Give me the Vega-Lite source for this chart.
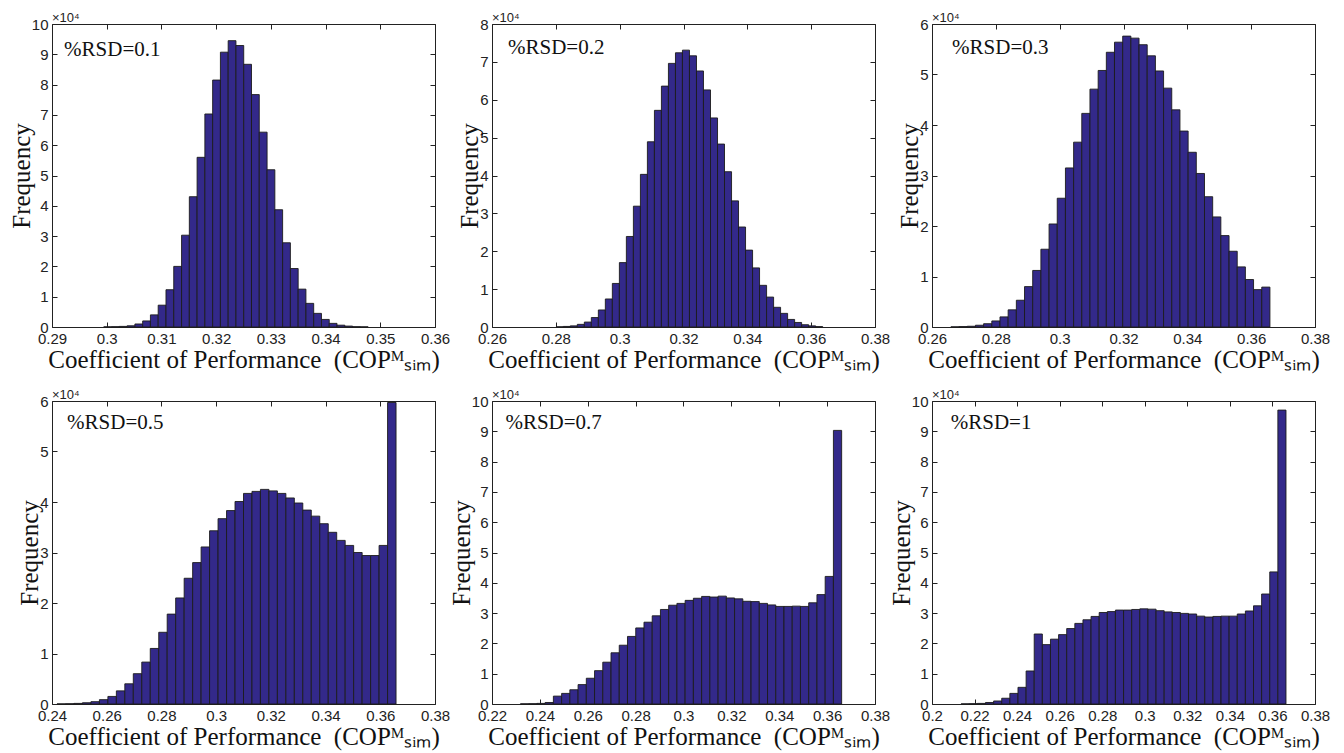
{
  "$schema": "https://vega.github.io/schema/vega-lite/v6.json",
  "background": "white",
  "padding": {"left": 8, "top": 11, "right": 5, "bottom": 5},
  "config": {
    "view": {"stroke": "#222", "strokeWidth": 1},
    "axis": {"grid": false, "domain": false, "ticks": true, "tickSize": -5, "tickColor": "#222", "tickWidth": 1,
      "labelFont": "Liberation Sans Narrow, Liberation Sans, Arial", "labelFontSize": 15, "labelColor": "#222", "labelPadding": 9,
      "labelFlush": false, "labelOverlap": false,
      "titleFont": "Liberation Serif, Times New Roman, serif", "titleFontSize": 25, "titleFontWeight": "normal", "titleColor": "#111"},
    "axisLeft": {"titlePadding": -3},
    "axisBottom": {"titlePadding": 1},
    "title": {"anchor": "start", "frame": "group", "fontSize": 13, "font": "Liberation Sans", "fontWeight": "normal", "offset": 3, "dy": 11, "color": "#222"}
  },
  "datasets": {
    "p1": [
      {"lo":0.29946,"hi":0.30088,"n":50},{"lo":0.30088,"hi":0.30231,"n":100},{"lo":0.30231,"hi":0.30373,"n":200},{"lo":0.30373,"hi":0.30515,"n":400},
      {"lo":0.30515,"hi":0.30657,"n":1000},{"lo":0.30657,"hi":0.30799,"n":2000},{"lo":0.30799,"hi":0.30941,"n":4000},{"lo":0.30941,"hi":0.31083,"n":7200},
      {"lo":0.31083,"hi":0.31225,"n":12300},{"lo":0.31225,"hi":0.31368,"n":20000},{"lo":0.31368,"hi":0.31510,"n":30300},{"lo":0.31510,"hi":0.31652,"n":43000},
      {"lo":0.31652,"hi":0.31794,"n":56000},{"lo":0.31794,"hi":0.31936,"n":70300},{"lo":0.31936,"hi":0.32078,"n":81500},{"lo":0.32078,"hi":0.32220,"n":90700},
      {"lo":0.32220,"hi":0.32362,"n":94500},{"lo":0.32362,"hi":0.32504,"n":92900},{"lo":0.32504,"hi":0.32646,"n":86700},{"lo":0.32646,"hi":0.32788,"n":76700},
      {"lo":0.32788,"hi":0.32931,"n":64300},{"lo":0.32931,"hi":0.33073,"n":51900},{"lo":0.33073,"hi":0.33215,"n":38700},{"lo":0.33215,"hi":0.33357,"n":27800},
      {"lo":0.33357,"hi":0.33499,"n":19300},{"lo":0.33499,"hi":0.33641,"n":12500},{"lo":0.33641,"hi":0.33783,"n":7800},{"lo":0.33783,"hi":0.33925,"n":4500},
      {"lo":0.33925,"hi":0.34067,"n":2500},{"lo":0.34067,"hi":0.34209,"n":1200},{"lo":0.34209,"hi":0.34352,"n":600},{"lo":0.34352,"hi":0.34494,"n":300},
      {"lo":0.34494,"hi":0.34636,"n":100},{"lo":0.34636,"hi":0.34778,"n":50}
    ],
    "p2": [
      {"lo":0.28014,"hi":0.28234,"n":50},{"lo":0.28234,"hi":0.28453,"n":150},{"lo":0.28453,"hi":0.28673,"n":300},{"lo":0.28673,"hi":0.28893,"n":700},
      {"lo":0.28893,"hi":0.29112,"n":1300},{"lo":0.29112,"hi":0.29332,"n":2500},{"lo":0.29332,"hi":0.29551,"n":4500},{"lo":0.29551,"hi":0.29771,"n":7400},
      {"lo":0.29771,"hi":0.29991,"n":11500},{"lo":0.29991,"hi":0.30210,"n":17000},{"lo":0.30210,"hi":0.30430,"n":23900},{"lo":0.30430,"hi":0.30650,"n":31900},
      {"lo":0.30650,"hi":0.30869,"n":40300},{"lo":0.30869,"hi":0.31089,"n":48900},{"lo":0.31089,"hi":0.31308,"n":57200},{"lo":0.31308,"hi":0.31528,"n":63600},
      {"lo":0.31528,"hi":0.31748,"n":69600},{"lo":0.31748,"hi":0.31967,"n":72400},{"lo":0.31967,"hi":0.32187,"n":73100},{"lo":0.32187,"hi":0.32407,"n":71600},
      {"lo":0.32407,"hi":0.32626,"n":67600},{"lo":0.32626,"hi":0.32846,"n":62600},{"lo":0.32846,"hi":0.33066,"n":55200},{"lo":0.33066,"hi":0.33285,"n":48300},
      {"lo":0.33285,"hi":0.33505,"n":41000},{"lo":0.33505,"hi":0.33724,"n":33300},{"lo":0.33724,"hi":0.33944,"n":26400},{"lo":0.33944,"hi":0.34164,"n":20300},
      {"lo":0.34164,"hi":0.34383,"n":15600},{"lo":0.34383,"hi":0.34603,"n":11000},{"lo":0.34603,"hi":0.34823,"n":7900},{"lo":0.34823,"hi":0.35042,"n":5200},
      {"lo":0.35042,"hi":0.35262,"n":3600},{"lo":0.35262,"hi":0.35482,"n":2000},{"lo":0.35482,"hi":0.35701,"n":1200},{"lo":0.35701,"hi":0.35921,"n":600},
      {"lo":0.35921,"hi":0.36140,"n":300},{"lo":0.36140,"hi":0.36360,"n":100}
    ],
    "p3": [
      {"lo":0.26592,"hi":0.26849,"n":30},{"lo":0.26849,"hi":0.27105,"n":80},{"lo":0.27105,"hi":0.27361,"n":150},{"lo":0.27361,"hi":0.27617,"n":350},
      {"lo":0.27617,"hi":0.27874,"n":650},{"lo":0.27874,"hi":0.28130,"n":1200},{"lo":0.28130,"hi":0.28386,"n":2000},{"lo":0.28386,"hi":0.28643,"n":3400},
      {"lo":0.28643,"hi":0.28899,"n":5300},{"lo":0.28899,"hi":0.29155,"n":8000},{"lo":0.29155,"hi":0.29412,"n":11200},{"lo":0.29412,"hi":0.29668,"n":15400},
      {"lo":0.29668,"hi":0.29924,"n":20400},{"lo":0.29924,"hi":0.30181,"n":25500},{"lo":0.30181,"hi":0.30437,"n":31500},{"lo":0.30437,"hi":0.30693,"n":36600},
      {"lo":0.30693,"hi":0.30949,"n":42300},{"lo":0.30949,"hi":0.31206,"n":47100},{"lo":0.31206,"hi":0.31462,"n":50800},{"lo":0.31462,"hi":0.31718,"n":54400},
      {"lo":0.31718,"hi":0.31975,"n":56400},{"lo":0.31975,"hi":0.32231,"n":57600},{"lo":0.32231,"hi":0.32487,"n":57200},{"lo":0.32487,"hi":0.32743,"n":55900},
      {"lo":0.32743,"hi":0.33000,"n":53700},{"lo":0.33000,"hi":0.33256,"n":50700},{"lo":0.33256,"hi":0.33512,"n":47300},{"lo":0.33512,"hi":0.33769,"n":43000},
      {"lo":0.33769,"hi":0.34025,"n":38800},{"lo":0.34025,"hi":0.34281,"n":34600},{"lo":0.34281,"hi":0.34538,"n":30400},{"lo":0.34538,"hi":0.34794,"n":25800},
      {"lo":0.34794,"hi":0.35050,"n":21800},{"lo":0.35050,"hi":0.35307,"n":18100},{"lo":0.35307,"hi":0.35563,"n":15000},{"lo":0.35563,"hi":0.35819,"n":11900},
      {"lo":0.35819,"hi":0.36075,"n":9400},{"lo":0.36075,"hi":0.36332,"n":7400},{"lo":0.36332,"hi":0.36588,"n":7900}
    ],
    "p4": [
      {"lo":0.24184,"hi":0.24494,"n":20},{"lo":0.24494,"hi":0.24804,"n":50},{"lo":0.24804,"hi":0.25113,"n":120},{"lo":0.25113,"hi":0.25423,"n":250},
      {"lo":0.25423,"hi":0.25733,"n":460},{"lo":0.25733,"hi":0.26043,"n":860},{"lo":0.26043,"hi":0.26353,"n":1500},{"lo":0.26353,"hi":0.26662,"n":2600},
      {"lo":0.26662,"hi":0.26972,"n":4000},{"lo":0.26972,"hi":0.27282,"n":6000},{"lo":0.27282,"hi":0.27592,"n":8300},{"lo":0.27592,"hi":0.27902,"n":11000},
      {"lo":0.27902,"hi":0.28211,"n":14200},{"lo":0.28211,"hi":0.28521,"n":17800},{"lo":0.28521,"hi":0.28831,"n":21000},{"lo":0.28831,"hi":0.29141,"n":24900},
      {"lo":0.29141,"hi":0.29451,"n":28000},{"lo":0.29451,"hi":0.29760,"n":31100},{"lo":0.29760,"hi":0.30070,"n":34300},{"lo":0.30070,"hi":0.30380,"n":36700},
      {"lo":0.30380,"hi":0.30690,"n":38300},{"lo":0.30690,"hi":0.31000,"n":40100},{"lo":0.31000,"hi":0.31309,"n":41700},{"lo":0.31309,"hi":0.31619,"n":42100},
      {"lo":0.31619,"hi":0.31929,"n":42500},{"lo":0.31929,"hi":0.32239,"n":42200},{"lo":0.32239,"hi":0.32549,"n":41700},{"lo":0.32549,"hi":0.32858,"n":40800},
      {"lo":0.32858,"hi":0.33168,"n":39800},{"lo":0.33168,"hi":0.33478,"n":38400},{"lo":0.33478,"hi":0.33788,"n":37200},{"lo":0.33788,"hi":0.34098,"n":35700},
      {"lo":0.34098,"hi":0.34407,"n":34000},{"lo":0.34407,"hi":0.34717,"n":32400},{"lo":0.34717,"hi":0.35027,"n":31400},{"lo":0.35027,"hi":0.35337,"n":30000},
      {"lo":0.35337,"hi":0.35647,"n":29400},{"lo":0.35647,"hi":0.35956,"n":29400},{"lo":0.35956,"hi":0.36266,"n":31400},{"lo":0.36266,"hi":0.36576,"n":59700}
    ],
    "p5": [
      {"lo":0.23187,"hi":0.23531,"n":50},{"lo":0.23531,"hi":0.23875,"n":100},{"lo":0.23875,"hi":0.24219,"n":200},{"lo":0.24219,"hi":0.24564,"n":500},
      {"lo":0.24564,"hi":0.24908,"n":2600},{"lo":0.24908,"hi":0.25252,"n":3500},{"lo":0.25252,"hi":0.25596,"n":4700},{"lo":0.25596,"hi":0.25940,"n":6400},
      {"lo":0.25940,"hi":0.26284,"n":8500},{"lo":0.26284,"hi":0.26628,"n":11000},{"lo":0.26628,"hi":0.26972,"n":13800},{"lo":0.26972,"hi":0.27316,"n":16900},
      {"lo":0.27316,"hi":0.27660,"n":19400},{"lo":0.27660,"hi":0.28005,"n":22300},{"lo":0.28005,"hi":0.28349,"n":25100},{"lo":0.28349,"hi":0.28693,"n":27000},
      {"lo":0.28693,"hi":0.29037,"n":29100},{"lo":0.29037,"hi":0.29381,"n":31200},{"lo":0.29381,"hi":0.29725,"n":32600},{"lo":0.29725,"hi":0.30069,"n":33200},
      {"lo":0.30069,"hi":0.30413,"n":34200},{"lo":0.30413,"hi":0.30757,"n":34900},{"lo":0.30757,"hi":0.31101,"n":35500},{"lo":0.31101,"hi":0.31446,"n":35300},
      {"lo":0.31446,"hi":0.31790,"n":35600},{"lo":0.31790,"hi":0.32134,"n":35000},{"lo":0.32134,"hi":0.32478,"n":34700},{"lo":0.32478,"hi":0.32822,"n":33900},
      {"lo":0.32822,"hi":0.33166,"n":33800},{"lo":0.33166,"hi":0.33510,"n":33200},{"lo":0.33510,"hi":0.33854,"n":32700},{"lo":0.33854,"hi":0.34198,"n":32200},
      {"lo":0.34198,"hi":0.34542,"n":32200},{"lo":0.34542,"hi":0.34887,"n":32300},{"lo":0.34887,"hi":0.35231,"n":32200},{"lo":0.35231,"hi":0.35575,"n":33400},
      {"lo":0.35575,"hi":0.35919,"n":36100},{"lo":0.35919,"hi":0.36263,"n":42100},{"lo":0.36263,"hi":0.36607,"n":90300}
    ],
    "p6": [
      {"lo":0.21369,"hi":0.21751,"n":50},{"lo":0.21751,"hi":0.22132,"n":100},{"lo":0.22132,"hi":0.22514,"n":200},{"lo":0.22514,"hi":0.22896,"n":500},
      {"lo":0.22896,"hi":0.23277,"n":1000},{"lo":0.23277,"hi":0.23659,"n":1900},{"lo":0.23659,"hi":0.24041,"n":3500},{"lo":0.24041,"hi":0.24423,"n":5500},
      {"lo":0.24423,"hi":0.24804,"n":10900},{"lo":0.24804,"hi":0.25186,"n":23100},{"lo":0.25186,"hi":0.25568,"n":19600},{"lo":0.25568,"hi":0.25949,"n":21400},
      {"lo":0.25949,"hi":0.26331,"n":22900},{"lo":0.26331,"hi":0.26713,"n":24900},{"lo":0.26713,"hi":0.27094,"n":26600},{"lo":0.27094,"hi":0.27476,"n":27800},
      {"lo":0.27476,"hi":0.27858,"n":28900},{"lo":0.27858,"hi":0.28240,"n":30200},{"lo":0.28240,"hi":0.28621,"n":30500},{"lo":0.28621,"hi":0.29003,"n":31000},
      {"lo":0.29003,"hi":0.29385,"n":31000},{"lo":0.29385,"hi":0.29766,"n":31200},{"lo":0.29766,"hi":0.30148,"n":31400},{"lo":0.30148,"hi":0.30530,"n":31300},
      {"lo":0.30530,"hi":0.30912,"n":30800},{"lo":0.30912,"hi":0.31293,"n":30400},{"lo":0.31293,"hi":0.31675,"n":30200},{"lo":0.31675,"hi":0.32057,"n":29900},
      {"lo":0.32057,"hi":0.32438,"n":29700},{"lo":0.32438,"hi":0.32820,"n":29000},{"lo":0.32820,"hi":0.33202,"n":28700},{"lo":0.33202,"hi":0.33583,"n":28900},
      {"lo":0.33583,"hi":0.33965,"n":29000},{"lo":0.33965,"hi":0.34347,"n":29000},{"lo":0.34347,"hi":0.34729,"n":29700},{"lo":0.34729,"hi":0.35110,"n":30700},
      {"lo":0.35110,"hi":0.35492,"n":32400},{"lo":0.35492,"hi":0.35874,"n":36300},{"lo":0.35874,"hi":0.36255,"n":43600},{"lo":0.36255,"hi":0.36637,"n":97000}
    ]
  },
  "columns": 3,
  "spacing": {"row": 74, "column": 57},
  "bounds": "flush",
  "concat": [
    {
      "width": 383, "height": 303,
      "title": {"text": "×10⁴"},
      "layer": [
        {"data": {"name": "p1"}, "mark": {"type": "rect", "fill": "#33298A", "stroke": "#1c1c1c", "strokeWidth": 0.9},
         "encoding": {
           "x": {"field": "lo", "type": "quantitative", "scale": {"domain": [0.29, 0.36], "nice": false, "zero": false},
                 "axis": {"orient": "bottom", "values": [0.29,0.3,0.31,0.32,0.33,0.34,0.35,0.36], "format": "~g", "title": "Coefficient of Performance\u2002(COPᴹₛᵢₘ)"}},
           "x2": {"field": "hi"},
           "y": {"field": "n", "type": "quantitative", "scale": {"domain": [0, 100000], "nice": false},
                 "axis": {"orient": "left", "values": [0,10000,20000,30000,40000,50000,60000,70000,80000,90000,100000], "labelExpr": "format(datum.value/10000,'~g')", "title": "Frequency"}},
           "y2": {"datum": 0}
         }},
        {"data": {"values": [{"t": "%RSD=0.1"}]}, "mark": {"type": "text", "align": "left", "baseline": "alphabetic", "font": "Liberation Serif, Times New Roman, serif", "fontSize": 21, "color": "#111"},
         "encoding": {
           "x": {"datum": 0.2922, "type": "quantitative", "scale": {"domain": [0.29, 0.36], "nice": false, "zero": false},
                 "axis": {"orient": "top", "values": [0.29,0.3,0.31,0.32,0.33,0.34,0.35,0.36], "labels": false, "title": null}},
           "y": {"datum": 89400, "type": "quantitative", "scale": {"domain": [0, 100000], "nice": false},
                 "axis": {"orient": "right", "values": [0,10000,20000,30000,40000,50000,60000,70000,80000,90000,100000], "labels": false, "title": null}},
           "text": {"field": "t"}
         }}
      ],
      "resolve": {"axis": {"x": "independent", "y": "independent"}}
    },
    {
      "width": 383, "height": 303,
      "title": {"text": "×10⁴"},
      "layer": [
        {"data": {"name": "p2"}, "mark": {"type": "rect", "fill": "#33298A", "stroke": "#1c1c1c", "strokeWidth": 0.9},
         "encoding": {
           "x": {"field": "lo", "type": "quantitative", "scale": {"domain": [0.26, 0.38], "nice": false, "zero": false},
                 "axis": {"orient": "bottom", "values": [0.26,0.28,0.3,0.32,0.34,0.36,0.38], "format": "~g", "title": "Coefficient of Performance\u2002(COPᴹₛᵢₘ)"}},
           "x2": {"field": "hi"},
           "y": {"field": "n", "type": "quantitative", "scale": {"domain": [0, 80000], "nice": false},
                 "axis": {"orient": "left", "values": [0,10000,20000,30000,40000,50000,60000,70000,80000], "labelExpr": "format(datum.value/10000,'~g')", "title": "Frequency"}},
           "y2": {"datum": 0}
         }},
        {"data": {"values": [{"t": "%RSD=0.2"}]}, "mark": {"type": "text", "align": "left", "baseline": "alphabetic", "font": "Liberation Serif, Times New Roman, serif", "fontSize": 21, "color": "#111"},
         "encoding": {
           "x": {"datum": 0.265, "type": "quantitative", "scale": {"domain": [0.26, 0.38], "nice": false, "zero": false},
                 "axis": {"orient": "top", "values": [0.26,0.28,0.3,0.32,0.34,0.36,0.38], "labels": false, "title": null}},
           "y": {"datum": 72100, "type": "quantitative", "scale": {"domain": [0, 80000], "nice": false},
                 "axis": {"orient": "right", "values": [0,10000,20000,30000,40000,50000,60000,70000,80000], "labels": false, "title": null}},
           "text": {"field": "t"}
         }}
      ],
      "resolve": {"axis": {"x": "independent", "y": "independent"}}
    },
    {
      "width": 383, "height": 303,
      "title": {"text": "×10⁴"},
      "layer": [
        {"data": {"name": "p3"}, "mark": {"type": "rect", "fill": "#33298A", "stroke": "#1c1c1c", "strokeWidth": 0.9},
         "encoding": {
           "x": {"field": "lo", "type": "quantitative", "scale": {"domain": [0.26, 0.38], "nice": false, "zero": false},
                 "axis": {"orient": "bottom", "values": [0.26,0.28,0.3,0.32,0.34,0.36,0.38], "format": "~g", "title": "Coefficient of Performance\u2002(COPᴹₛᵢₘ)"}},
           "x2": {"field": "hi"},
           "y": {"field": "n", "type": "quantitative", "scale": {"domain": [0, 60000], "nice": false},
                 "axis": {"orient": "left", "values": [0,10000,20000,30000,40000,50000,60000], "labelExpr": "format(datum.value/10000,'~g')", "title": "Frequency"}},
           "y2": {"datum": 0}
         }},
        {"data": {"values": [{"t": "%RSD=0.3"}]}, "mark": {"type": "text", "align": "left", "baseline": "alphabetic", "font": "Liberation Serif, Times New Roman, serif", "fontSize": 21, "color": "#111"},
         "encoding": {
           "x": {"datum": 0.2663, "type": "quantitative", "scale": {"domain": [0.26, 0.38], "nice": false, "zero": false},
                 "axis": {"orient": "top", "values": [0.26,0.28,0.3,0.32,0.34,0.36,0.38], "labels": false, "title": null}},
           "y": {"datum": 54100, "type": "quantitative", "scale": {"domain": [0, 60000], "nice": false},
                 "axis": {"orient": "right", "values": [0,10000,20000,30000,40000,50000,60000], "labels": false, "title": null}},
           "text": {"field": "t"}
         }}
      ],
      "resolve": {"axis": {"x": "independent", "y": "independent"}}
    },
    {
      "width": 383, "height": 303,
      "title": {"text": "×10⁴"},
      "layer": [
        {"data": {"name": "p4"}, "mark": {"type": "rect", "fill": "#33298A", "stroke": "#1c1c1c", "strokeWidth": 0.9},
         "encoding": {
           "x": {"field": "lo", "type": "quantitative", "scale": {"domain": [0.24, 0.38], "nice": false, "zero": false},
                 "axis": {"orient": "bottom", "values": [0.24,0.26,0.28,0.3,0.32,0.34,0.36,0.38], "format": "~g", "title": "Coefficient of Performance\u2002(COPᴹₛᵢₘ)"}},
           "x2": {"field": "hi"},
           "y": {"field": "n", "type": "quantitative", "scale": {"domain": [0, 60000], "nice": false},
                 "axis": {"orient": "left", "values": [0,10000,20000,30000,40000,50000,60000], "labelExpr": "format(datum.value/10000,'~g')", "title": "Frequency"}},
           "y2": {"datum": 0}
         }},
        {"data": {"values": [{"t": "%RSD=0.5"}]}, "mark": {"type": "text", "align": "left", "baseline": "alphabetic", "font": "Liberation Serif, Times New Roman, serif", "fontSize": 21, "color": "#111"},
         "encoding": {
           "x": {"datum": 0.2455, "type": "quantitative", "scale": {"domain": [0.24, 0.38], "nice": false, "zero": false},
                 "axis": {"orient": "top", "values": [0.24,0.26,0.28,0.3,0.32,0.34,0.36,0.38], "labels": false, "title": null}},
           "y": {"datum": 54400, "type": "quantitative", "scale": {"domain": [0, 60000], "nice": false},
                 "axis": {"orient": "right", "values": [0,10000,20000,30000,40000,50000,60000], "labels": false, "title": null}},
           "text": {"field": "t"}
         }}
      ],
      "resolve": {"axis": {"x": "independent", "y": "independent"}}
    },
    {
      "width": 383, "height": 303,
      "title": {"text": "×10⁴"},
      "layer": [
        {"data": {"name": "p5"}, "mark": {"type": "rect", "fill": "#33298A", "stroke": "#1c1c1c", "strokeWidth": 0.9},
         "encoding": {
           "x": {"field": "lo", "type": "quantitative", "scale": {"domain": [0.22, 0.38], "nice": false, "zero": false},
                 "axis": {"orient": "bottom", "values": [0.22,0.24,0.26,0.28,0.3,0.32,0.34,0.36,0.38], "format": "~g", "title": "Coefficient of Performance\u2002(COPᴹₛᵢₘ)"}},
           "x2": {"field": "hi"},
           "y": {"field": "n", "type": "quantitative", "scale": {"domain": [0, 100000], "nice": false},
                 "axis": {"orient": "left", "values": [0,10000,20000,30000,40000,50000,60000,70000,80000,90000,100000], "labelExpr": "format(datum.value/10000,'~g')", "title": "Frequency"}},
           "y2": {"datum": 0}
         }},
        {"data": {"values": [{"t": "%RSD=0.7"}]}, "mark": {"type": "text", "align": "left", "baseline": "alphabetic", "font": "Liberation Serif, Times New Roman, serif", "fontSize": 21, "color": "#111"},
         "encoding": {
           "x": {"datum": 0.2256, "type": "quantitative", "scale": {"domain": [0.22, 0.38], "nice": false, "zero": false},
                 "axis": {"orient": "top", "values": [0.22,0.24,0.26,0.28,0.3,0.32,0.34,0.36,0.38], "labels": false, "title": null}},
           "y": {"datum": 90700, "type": "quantitative", "scale": {"domain": [0, 100000], "nice": false},
                 "axis": {"orient": "right", "values": [0,10000,20000,30000,40000,50000,60000,70000,80000,90000,100000], "labels": false, "title": null}},
           "text": {"field": "t"}
         }}
      ],
      "resolve": {"axis": {"x": "independent", "y": "independent"}}
    },
    {
      "width": 383, "height": 303,
      "title": {"text": "×10⁴"},
      "layer": [
        {"data": {"name": "p6"}, "mark": {"type": "rect", "fill": "#33298A", "stroke": "#1c1c1c", "strokeWidth": 0.9},
         "encoding": {
           "x": {"field": "lo", "type": "quantitative", "scale": {"domain": [0.2, 0.38], "nice": false, "zero": false},
                 "axis": {"orient": "bottom", "values": [0.2,0.22,0.24,0.26,0.28,0.3,0.32,0.34,0.36,0.38], "format": "~g", "title": "Coefficient of Performance\u2002(COPᴹₛᵢₘ)"}},
           "x2": {"field": "hi"},
           "y": {"field": "n", "type": "quantitative", "scale": {"domain": [0, 100000], "nice": false},
                 "axis": {"orient": "left", "values": [0,10000,20000,30000,40000,50000,60000,70000,80000,90000,100000], "labelExpr": "format(datum.value/10000,'~g')", "title": "Frequency"}},
           "y2": {"datum": 0}
         }},
        {"data": {"values": [{"t": "%RSD=1"}]}, "mark": {"type": "text", "align": "left", "baseline": "alphabetic", "font": "Liberation Serif, Times New Roman, serif", "fontSize": 21, "color": "#111"},
         "encoding": {
           "x": {"datum": 0.2088, "type": "quantitative", "scale": {"domain": [0.2, 0.38], "nice": false, "zero": false},
                 "axis": {"orient": "top", "values": [0.2,0.22,0.24,0.26,0.28,0.3,0.32,0.34,0.36,0.38], "labels": false, "title": null}},
           "y": {"datum": 90700, "type": "quantitative", "scale": {"domain": [0, 100000], "nice": false},
                 "axis": {"orient": "right", "values": [0,10000,20000,30000,40000,50000,60000,70000,80000,90000,100000], "labels": false, "title": null}},
           "text": {"field": "t"}
         }}
      ],
      "resolve": {"axis": {"x": "independent", "y": "independent"}}
    }
  ]
}
